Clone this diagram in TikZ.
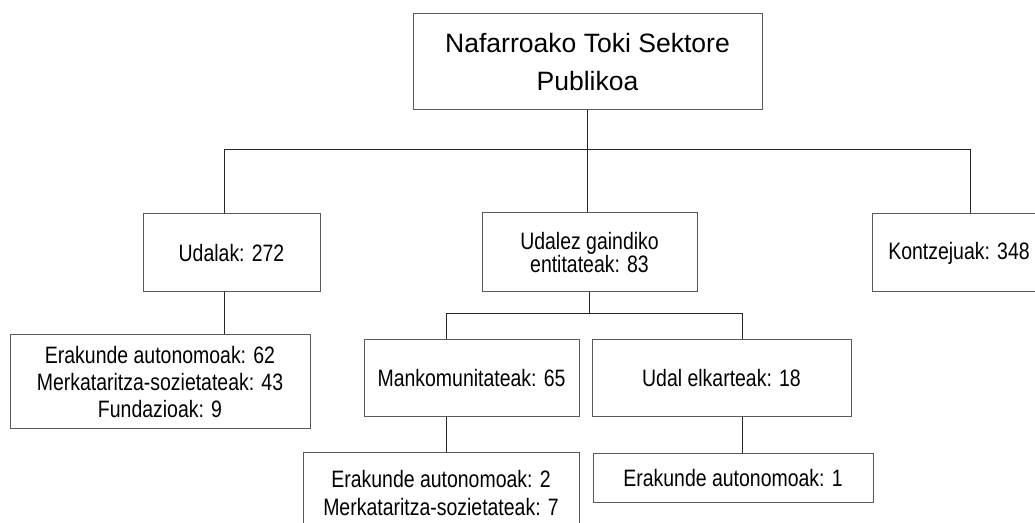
\documentclass[tikz,border=0pt]{standalone}
\usepackage{fontspec}
\setmainfont{Liberation Sans}
\newfontfamily\narrowfont{Liberation Sans}[FakeStretch=0.82]
\usepackage{tikz}

\begin{document}
\begin{tikzpicture}[x=0.75pt,y=-0.75pt,
	box/.style={draw=black!65,line width=0.75pt,inner sep=0pt,align=center,
		font={\narrowfont\fontsize{17.8pt}{20.6pt}\selectfont}},
	link/.style={draw=black!85,line width=0.75pt}]
	\useasboundingbox (0,0) rectangle (1035,523);
	\clip (0,0) rectangle (1035,523);
	
	%the top box
	\node[box,minimum width=261.75pt,minimum height=72pt,
		font={\fontsize{19.9pt}{28.5pt}\selectfont}] (sektorea) at (587.5,62)
		{Nafarroako Toki Sektore\\Publikoa};
	
	%the second row
	\node[box,minimum width=132.75pt,minimum height=58.5pt] (udalak) at (231.5,253) {Udalak: 272};
	\node[box,minimum width=161.25pt,minimum height=59.25pt,
		font={\narrowfont\fontsize{17.8pt}{15.75pt}\selectfont}] (gaindiko) at (589.5,252.5)
		{Udalez gaindiko\\entitateak: 83};
	\node[box,minimum width=130.5pt,minimum height=58.5pt] (kontzejuak) at (959,253) {Kontzejuak: 348};
	
	%the third row
	\node[box,minimum width=225pt,minimum height=70.5pt] (udalakerak) at (160,382)
		{Erakunde autonomoak: 62\\Merkataritza-sozietateak: 43\\Fundazioak: 9};
	\node[box,minimum width=161.25pt,minimum height=57.75pt] (mankom) at (471.5,378.5) {Mankomunitateak: 65};
	\node[box,minimum width=194.25pt,minimum height=57.75pt] (elkarteak) at (721.5,378.5) {Udal elkarteak: 18};
	
	%the bottom row
	\node[box,minimum width=207pt,minimum height=60.75pt,
		font={\narrowfont\fontsize{17.8pt}{21pt}\selectfont}] (mankomerak) at (441,493.5)
		{Erakunde autonomoak: 2\\Merkataritza-sozietateak: 7};
	\node[box,minimum width=210pt,minimum height=36.75pt] (elkarteakerak) at (733,478.5) {Erakunde autonomoak: 1};
	
	%branch points
	\coordinate (jleft) at (224,150);
	\coordinate (jright) at (970,150);
	\coordinate (mleft) at (446,314);
	\coordinate (mright) at (742,314);
	
	%connectors from the top box
	\draw[link] (sektorea.south) -- (sektorea.south |- gaindiko.north);
	\draw[link] (jleft |- udalak.north) -- (jleft) -- (jright) -- (jright |- kontzejuak.north);
	\draw[link] (jleft |- udalak.south) -- (jleft |- udalakerak.north);
	
	%connectors below the supramunicipal box
	\draw[link] (gaindiko.south) -- (gaindiko.south |- mleft);
	\draw[link] (mleft |- mankom.north) -- (mleft) -- (mright) -- (mright |- elkarteak.north);
	\draw[link] (mleft |- mankom.south) -- (mleft |- mankomerak.north);
	\draw[link] (mright |- elkarteak.south) -- (mright |- elkarteakerak.north);
	
\end{tikzpicture}
\end{document}
